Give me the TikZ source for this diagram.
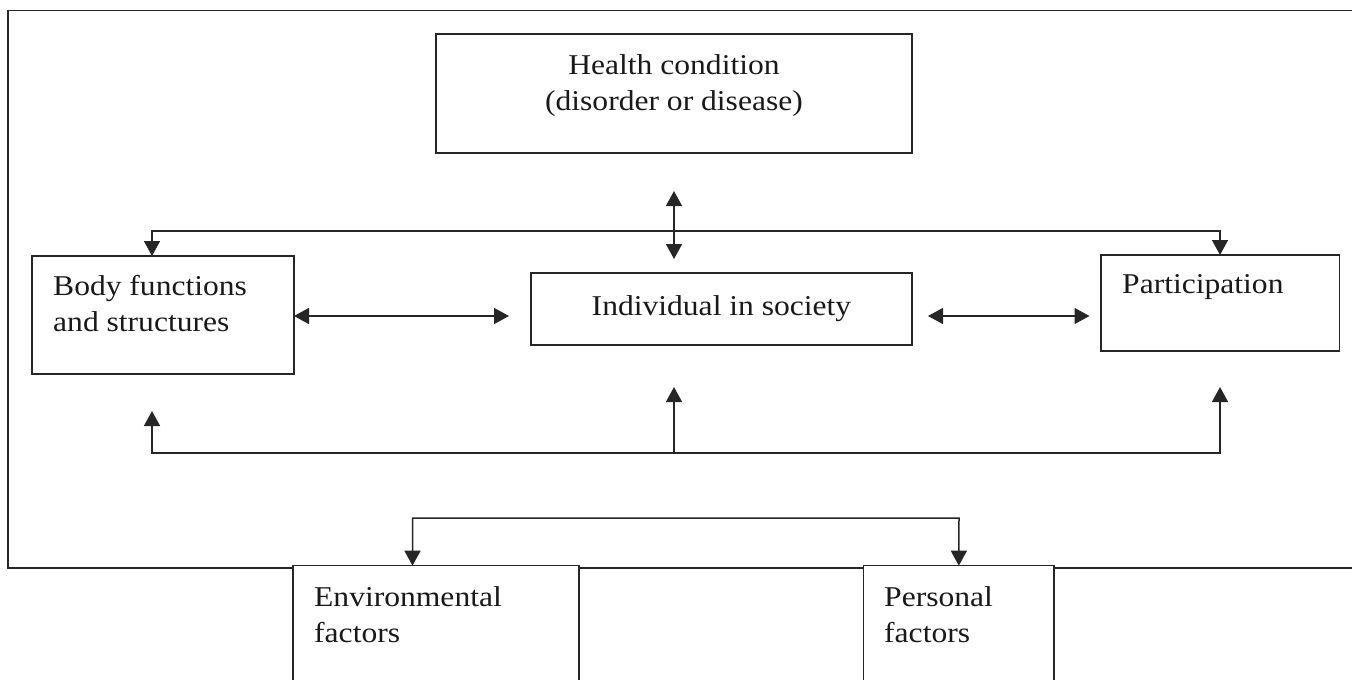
\documentclass[tikz,border=0pt]{standalone}
\usepackage{fontspec}
\setmainfont{Liberation Serif}[FakeStretch=1.1]
\usetikzlibrary{arrows.meta}
\begin{document}
\begin{tikzpicture}[x=1pt,y=-1pt,
  box/.style={draw=black!85, line width=1.5pt, fill=white, rectangle, inner sep=0pt, outer sep=0pt, anchor=north west},
  lbl/.style={inner sep=0pt, text=black!90, font=\fontsize{28.7}{36}\selectfont},
  conn/.style={draw=black!85, line width=1.5pt},
  onetip/.style={conn, -{Triangle[length=15pt,width=16pt]}},
  twotip/.style={conn, {Triangle[length=15pt,width=16pt]}-{Triangle[length=15pt,width=16pt]}}]
\useasboundingbox (0,0) rectangle (1352,680);
\clip (0,0) rectangle (1352,680);
% outer frame (open on the right)
\coordinate (frTR) at (1360,10.5);
\coordinate (frTL) at (8,10.5);
\coordinate (frBL) at (8,568);
\coordinate (frBR) at (1360,568);
\draw[conn] (frTR) -- (frTL) -- (frBL) -- (frBR);
% boxes
\node[box, minimum width=476pt, minimum height=119pt] (health) at (436,34) {};
\node[box, minimum width=262pt, minimum height=118pt] (body) at (32,256) {};
\node[box, minimum width=381pt, minimum height=72pt] (indiv) at (531,273) {};
\node[box, minimum width=238.5pt, minimum height=96pt] (part) at (1101,255) {};
\node[box, minimum width=286pt, minimum height=150pt] (env) at (293,565.7) {};
\node[box, minimum width=190.4pt, minimum height=150pt] (pers) at (863.6,565.7) {};
% texts
\node[lbl, align=center, anchor=base] (htext) at (674,110) {Health condition\\(disorder or disease)};
\node[lbl, align=left, anchor=base west] (btext) at (53,331) {Body functions\\and structures};
\node[lbl, anchor=base] (itext) at (721.5,315) {Individual in society};
\node[lbl, anchor=base west] (ptext) at (1122,293) {Participation};
\node[lbl, align=left, anchor=base west] (etext) at (314,642) {Environmental\\factors};
\node[lbl, align=left, anchor=base west] (pstext) at (884,642) {Personal\\factors};
% connector coordinates
\coordinate (hTop) at (674,191);
\coordinate (hBot) at (674,259);
\coordinate (busL) at (152,231);
\coordinate (busR) at (1220,231);
\coordinate (lA) at (509,316);
\coordinate (rA) at (928,316);
\coordinate (rB) at (1089.5,316);
\coordinate (fbL) at (152,453);
\coordinate (fbM) at (674,453);
\coordinate (fbR) at (1220,453);
\coordinate (upL) at (152,411);
\coordinate (upM) at (674,387);
\coordinate (upR) at (1220,387);
\coordinate (epL) at (412.5,518);
\coordinate (epR) at (959,518);
% connectors
\draw[twotip] (hTop) -- (hBot);
\draw[twotip] (busL |- body.north) -- (busL) -- (busR) -- (busR |- part.north);
\draw[twotip] (body.east |- lA) -- (lA);
\draw[twotip] (rA) -- (rB);
\draw[twotip] (upL) -- (fbL) -- (fbR) -- (upR);
\draw[onetip] (fbM) -- (upM);
\draw[twotip] (epL |- env.north) -- (epL) -- (epR) -- (pers.north);
\end{tikzpicture}
\end{document}
